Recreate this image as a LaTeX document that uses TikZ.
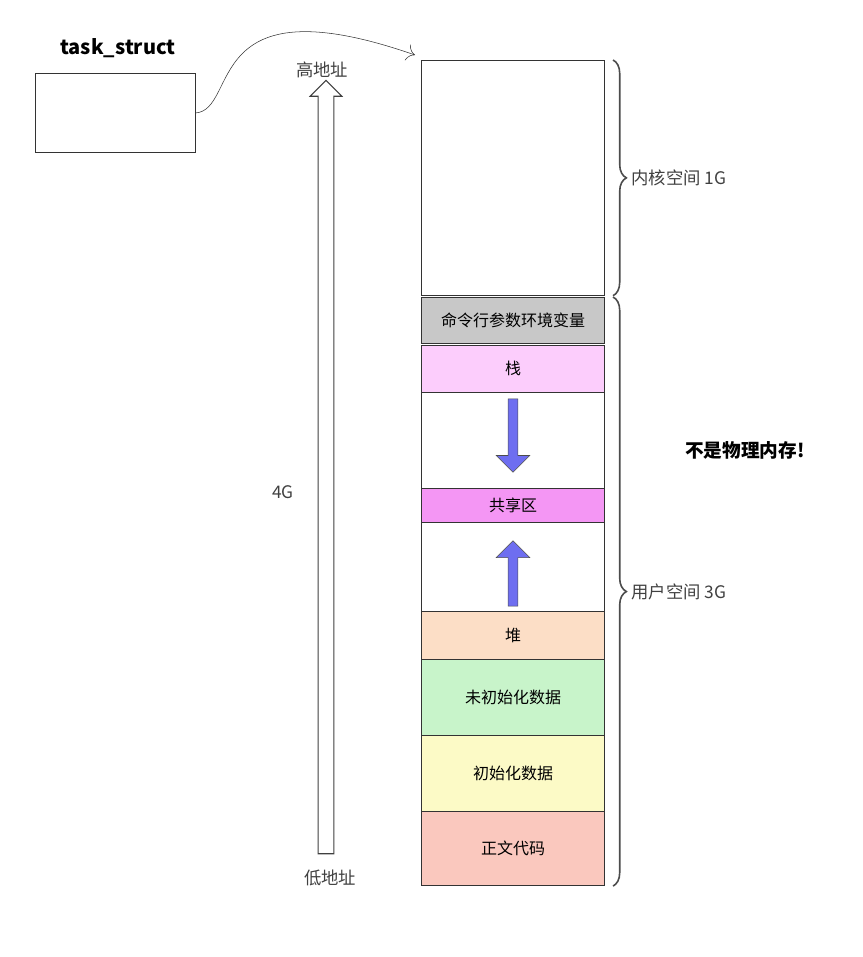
\documentclass[tikz,border=0pt]{standalone}
\usepackage{fontspec}
\setmainfont{Noto Sans CJK SC}
\usetikzlibrary{arrows.meta,decorations.pathreplacing,shapes.arrows}
\tikzset{
  seg/.style={draw=black!80,thick,minimum width=137.25pt,inner sep=0pt,anchor=north,font=\fontsize{12}{12}\selectfont},
  lbl/.style={font=\fontsize{13}{13}\selectfont,text=black!75},
  brc/.style={decorate,decoration={brace,amplitude=10pt},very thick,black!70}
}
\definecolor{cmdgray}{RGB}{200,200,200}
\definecolor{stackpink}{RGB}{252,205,252}
\definecolor{sharepink}{RGB}{244,150,244}
\definecolor{heappeach}{RGB}{252,222,198}
\definecolor{bssgreen}{RGB}{200,244,202}
\definecolor{datayellow}{RGB}{252,250,198}
\definecolor{textred}{RGB}{250,200,190}
\definecolor{arrblue}{RGB}{110,110,240}
\begin{document}
\begin{tikzpicture}[x=0.75pt,y=-0.75pt]
  \useasboundingbox (0,0) rectangle (863,957);
  % task_struct
  \node[draw=black!80,minimum width=120pt,minimum height=59pt,inner sep=0pt] (task) at (115,113) {};
  \node[font=\bfseries\fontsize{15}{15}\selectfont] (tasktitle) at (118,48) {task\_struct};
  % memory column
  \node[seg,minimum height=176pt] (kernel) at (513,60) {};
  \node[seg,fill=cmdgray,minimum height=34.5pt] (cmd) at (513,297) {命令行参数环境变量};
  \node[seg,fill=stackpink,minimum height=35pt] (stack) at (513,345) {栈};
  \node[seg,minimum height=72pt] (gap1) at (513,392) {};
  \node[seg,fill=sharepink,minimum height=25.5pt] (shared) at (513,488) {共享区};
  \node[seg,minimum height=67pt] (gap2) at (513,522) {};
  \node[seg,fill=heappeach,minimum height=36pt] (heap) at (513,611) {堆};
  \node[seg,fill=bssgreen,minimum height=57pt] (bss) at (513,659) {未初始化数据};
  \node[seg,fill=datayellow,minimum height=57pt] (data) at (513,735) {初始化数据};
  \node[seg,fill=textred,minimum height=55.5pt] (text) at (513,811) {正文代码};
  % pointer from task_struct
  \coordinate (ptr) at (415,55);
  \draw[-{To[length=6pt]},black!80] (task.east) .. controls (240,110) and (200,-20) .. (ptr);
  % braces
  \draw[brc] ([xshift=6]kernel.north east) -- ([xshift=6]kernel.south east) node[midway,right=10pt,lbl] (klabel) {内核空间 1G};
  \draw[brc] ([xshift=6]cmd.north east) -- ([xshift=6]text.south east) node[midway,right=10pt,lbl] (ulabel) {用户空间 3G};
  % address arrow
  \node[single arrow,draw=black!75,thick,fill=white,minimum height=580pt,single arrow head extend=6pt,inner sep=5.5pt,rotate=90] (addr) at (326,471) {};
  \node[lbl] (high) at (322,70) {高地址};
  \node[lbl] (low) at (330,878) {低地址};
  \node[lbl] (size) at (283,492) {4G};
  % growth arrows
  \node[single arrow,draw=black!70,fill=arrblue,minimum height=55pt,minimum width=25pt,single arrow head extend=4pt,inner sep=1.5pt,rotate=-90] (down) at (513,433) {};
  \node[single arrow,draw=black!70,fill=arrblue,minimum height=49pt,minimum width=25pt,single arrow head extend=4pt,inner sep=1.5pt,rotate=90] (up) at (513,576) {};
  \node[font=\bfseries\fontsize{14}{14}\selectfont] (note) at (745,450) {不是物理内存!};
\end{tikzpicture}
\end{document}
